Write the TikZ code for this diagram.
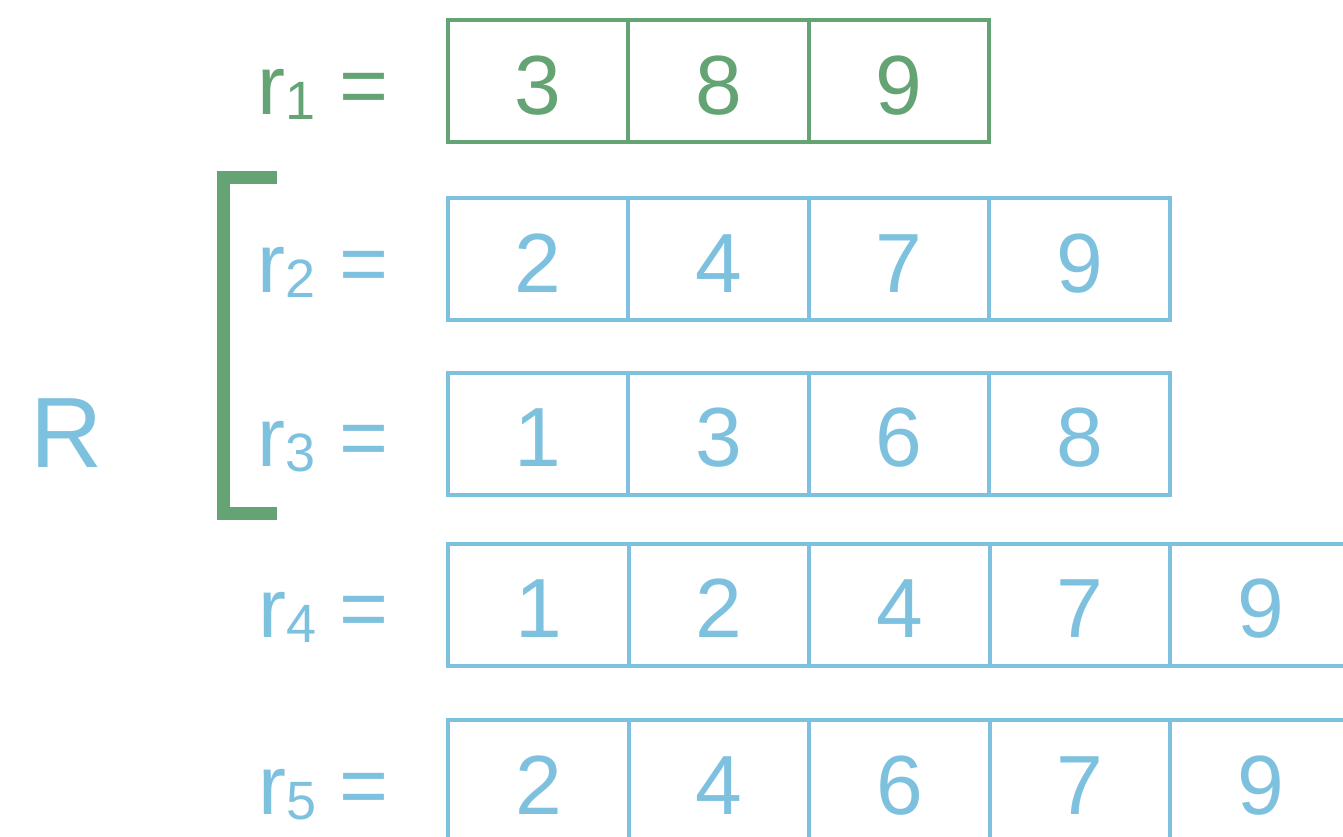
\documentclass[tikz,border=0pt]{standalone}
\usepackage{fontspec}
\setmainfont{Liberation Sans}
\usepackage{tikz}
\usetikzlibrary{positioning}
\definecolor{rgreen}{RGB}{100,164,116}
\definecolor{rblue}{RGB}{126,193,223}
\newcommand{\rlab}[1]{r\raisebox{-2.5pt}{\fontsize{27}{27}\selectfont #1} =}

\begin{document}
\begin{tikzpicture}[x=0.5pt, y=-0.5pt,
    cell/.style={rectangle, draw, line width=2pt, minimum width=90.25pt, minimum height=61pt, inner sep=0pt, outer sep=0pt, text height=33pt, text depth=0pt, font=\fontsize{42}{42}\selectfont},
    lbl/.style={inner sep=0pt, anchor=base east, font=\fontsize{42}{42}\selectfont}]

\path [use as bounding box, clip] (0,0) rectangle (1343,836);

\node [cell, rgreen] (a1) at (538,81) {3};
\node [cell, rgreen, right=0pt of a1] (a2) {8};
\node [cell, rgreen, right=0pt of a2] (a3) {9};
\node [lbl, rgreen] (ra) at ([xshift=-29.5pt]a1.base west) {\rlab{1}};

\node [cell, rblue] (b1) at (538,259) {2};
\node [cell, rblue, right=0pt of b1] (b2) {4};
\node [cell, rblue, right=0pt of b2] (b3) {7};
\node [cell, rblue, right=0pt of b3] (b4) {9};
\node [lbl, rblue] (rb) at ([xshift=-29.5pt]b1.base west) {\rlab{2}};

\node [cell, rblue] (c1) at (538,433.5) {1};
\node [cell, rblue, right=0pt of c1] (c2) {3};
\node [cell, rblue, right=0pt of c2] (c3) {6};
\node [cell, rblue, right=0pt of c3] (c4) {8};
\node [lbl, rblue] (rc) at ([xshift=-29.5pt]c1.base west) {\rlab{3}};

\node [cell, rblue] (d1) at (538.5,604.5) {1};
\node [cell, rblue, right=0pt of d1] (d2) {2};
\node [cell, rblue, right=0pt of d2] (d3) {4};
\node [cell, rblue, right=0pt of d3] (d4) {7};
\node [cell, rblue, right=0pt of d4] (d5) {9};
\node [lbl, rblue] (rd) at ([xshift=-29.5pt]d1.base west) {\rlab{4}};

\node [cell, rblue] (e1) at (538.5,781) {2};
\node [cell, rblue, right=0pt of e1] (e2) {4};
\node [cell, rblue, right=0pt of e2] (e3) {6};
\node [cell, rblue, right=0pt of e3] (e4) {7};
\node [cell, rblue, right=0pt of e4] (e5) {9};
\node [lbl, rblue] (re) at ([xshift=-29.5pt]e1.base west) {\rlab{5}};

\node [rblue, inner sep=0pt, font=\fontsize{50}{50}\selectfont] (bigr) at (67,433) {R};

\draw [rgreen, line width=6.5pt] (277,177.5) -| (223.5,513.5) -- (277,513.5);

\end{tikzpicture}
\end{document}
